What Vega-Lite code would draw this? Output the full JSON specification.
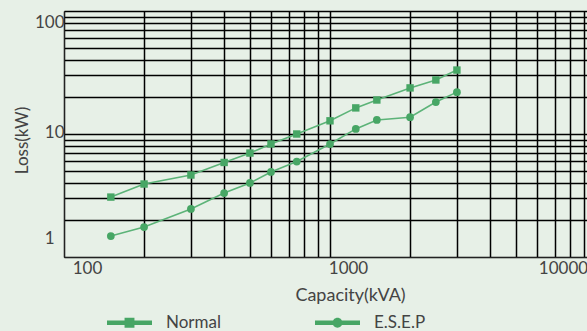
{
  "$schema": "https://vega.github.io/schema/vega-lite/v6.json",
  "width": 532,
  "height": 246,
  "autosize": "none",
  "padding": {"left": 64, "top": 11, "right": 0, "bottom": 74},
  "background": "#e7f0e7",
  "config": {"view": {"stroke": null}, "font": "Lato"},
  "data": {
    "values": [
      {"series": "Normal", "cap": 150, "loss": 3.07},
      {"series": "Normal", "cap": 200, "loss": 3.92},
      {"series": "Normal", "cap": 300, "loss": 4.64},
      {"series": "Normal", "cap": 400, "loss": 5.87},
      {"series": "Normal", "cap": 500, "loss": 7.0},
      {"series": "Normal", "cap": 600, "loss": 8.3},
      {"series": "Normal", "cap": 750, "loss": 10.0},
      {"series": "Normal", "cap": 1000, "loss": 12.8},
      {"series": "Normal", "cap": 1250, "loss": 16.3},
      {"series": "Normal", "cap": 1500, "loss": 18.9},
      {"series": "Normal", "cap": 2000, "loss": 23.7},
      {"series": "Normal", "cap": 2500, "loss": 27.5},
      {"series": "Normal", "cap": 3000, "loss": 33.1},
      {"series": "E.S.E.P", "cap": 150, "loss": 1.48},
      {"series": "E.S.E.P", "cap": 200, "loss": 1.75},
      {"series": "E.S.E.P", "cap": 300, "loss": 2.46},
      {"series": "E.S.E.P", "cap": 400, "loss": 3.31},
      {"series": "E.S.E.P", "cap": 500, "loss": 4.0},
      {"series": "E.S.E.P", "cap": 600, "loss": 4.91},
      {"series": "E.S.E.P", "cap": 750, "loss": 5.97},
      {"series": "E.S.E.P", "cap": 1000, "loss": 8.29},
      {"series": "E.S.E.P", "cap": 1250, "loss": 11.0},
      {"series": "E.S.E.P", "cap": 1500, "loss": 13.0},
      {"series": "E.S.E.P", "cap": 2000, "loss": 13.7},
      {"series": "E.S.E.P", "cap": 2500, "loss": 18.2},
      {"series": "E.S.E.P", "cap": 3000, "loss": 21.9}
    ]
  },
  "encoding": {
    "x": {
      "field": "cap",
      "type": "quantitative",
      "scale": {"type": "log", "domain": [100, 10000], "nice": false},
      "axis": {
        "values": [100, 200, 300, 400, 500, 600, 700, 800, 900, 1000, 2000, 3000, 4000, 5000, 6000, 7000, 8000, 9000, 10000],
        "labelExpr": "datum.value == 100 || datum.value == 1000 || datum.value == 10000 ? format(datum.value, 'd') : ''",
        "grid": true,
        "gridColor": "#000000",
        "gridWidth": 1.5,
        "gridOpacity": 1,
        "ticks": false,
        "domainColor": "#222222",
        "domainWidth": 1,
        "labelFontSize": 17,
        "labelColor": "#444444",
        "labelPadding": 3,
        "labelOverlap": false,
        "labelBound": false,
        "labelFlush": false,
        "labelOffset": {"condition": [{"test": "datum.value == 100", "value": 23}, {"test": "datum.value == 1000", "value": 18}], "value": -33},
        "title": "Capacity(kVA)",
        "titleFontSize": 18,
        "titleFontWeight": "normal",
        "titleColor": "#444444",
        "titleX": 286,
        "titleY": 38,
        "titleAlign": "center",
        "titleBaseline": "middle"
      }
    },
    "y": {
      "field": "loss",
      "type": "quantitative",
      "scale": {"type": "log", "domain": [1, 100], "nice": false},
      "axis": {
        "values": [1, 2, 3, 4, 5, 6, 7, 8, 9, 10, 20, 30, 40, 50, 60, 70, 80, 90, 100],
        "labelExpr": "datum.value == 1 || datum.value == 10 || datum.value == 100 ? format(datum.value, 'd') : ''",
        "grid": true,
        "gridColor": "#000000",
        "gridWidth": 1.5,
        "gridOpacity": 1,
        "ticks": false,
        "domainColor": "#222222",
        "domainWidth": 1,
        "labelFontSize": 17,
        "labelColor": "#444444",
        "labelOverlap": false,
        "labelBound": false,
        "labelFlush": false,
        "labelPadding": {"condition": {"test": "datum.value == 1", "value": 10}, "value": 0},
        "labelOffset": {"condition": [{"test": "datum.value == 100", "value": 11}, {"test": "datum.value == 10", "value": -2}], "value": -19},
        "title": "Loss(kW)",
        "titleFontSize": 17,
        "titleFontWeight": "normal",
        "titleColor": "#444444",
        "titleX": -42,
        "titleY": 129,
        "titleAngle": -90,
        "titleAlign": "center",
        "titleBaseline": "middle"
      }
    }
  },
  "layer": [
    {
      "mark": {"type": "line", "color": "#5cb378", "strokeWidth": 1.6},
      "encoding": {"detail": {"field": "series"}}
    },
    {
      "transform": [{"filter": "datum.series == 'Normal'"}],
      "mark": {"type": "square", "color": "#47a665", "size": 55, "opacity": 1}
    },
    {
      "transform": [{"filter": "datum.series == 'E.S.E.P'"}],
      "mark": {"type": "circle", "color": "#47a665", "size": 60, "opacity": 1}
    },
    {
      "mark": {"type": "point", "filled": true, "opacity": 0},
      "encoding": {
        "color": {"field": "series", "type": "nominal", "scale": {"domain": ["Normal", "E.S.E.P"], "range": ["#47a665", "#47a665"]}, "legend": {"orient": "none", "legendX": 43, "legendY": 289, "direction": "horizontal", "title": null, "symbolSize": 2025, "symbolStrokeWidth": 0, "symbolOpacity": 1, "labelFontSize": 17, "labelColor": "#444444", "labelOffset": 14, "columnPadding": 94, "padding": 0}},
        "shape": {"field": "series", "type": "nominal", "scale": {"domain": ["Normal", "E.S.E.P"], "range": ["M-1,-0.1H1V0.1H-1Z M-0.22,-0.22H0.22V0.22H-0.22Z", "M-1,-0.1H1V0.1H-1Z M0.22,0A0.22,0.22 0 1,1 -0.22,0A0.22,0.22 0 1,1 0.22,0Z"]}, "legend": {"orient": "none", "legendX": 43, "legendY": 289, "direction": "horizontal", "title": null, "symbolSize": 2025, "symbolStrokeWidth": 0, "symbolOpacity": 1, "labelFontSize": 17, "labelColor": "#444444", "labelOffset": 14, "columnPadding": 94, "padding": 0}}
      }
    }
  ]
}
